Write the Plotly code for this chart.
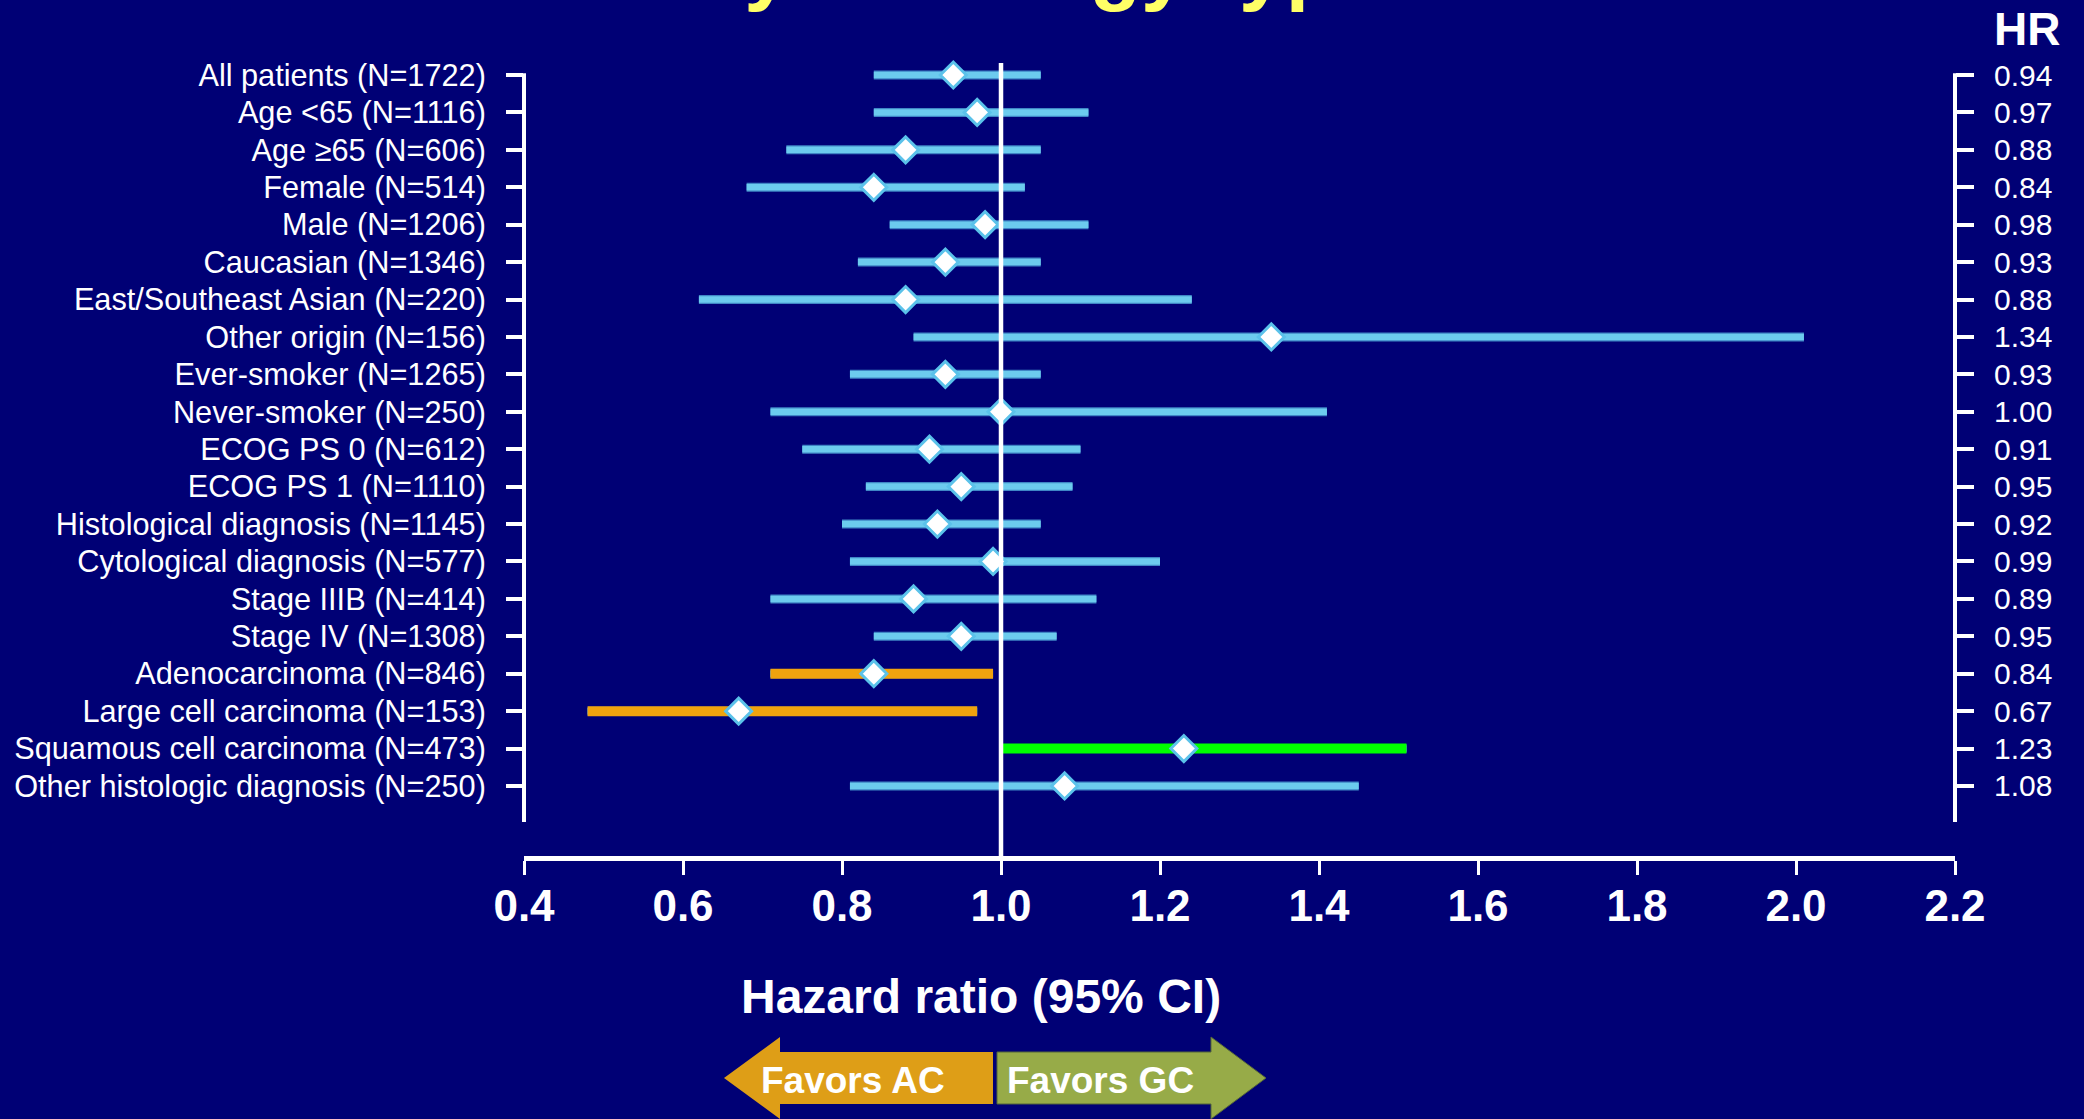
import plotly.graph_objects as go

# ---------------- data ----------------
labels = [
    "All patients (N=1722)", "Age <65 (N=1116)", "Age \u226565 (N=606)", "Female (N=514)",
    "Male (N=1206)", "Caucasian (N=1346)", "East/Southeast Asian (N=220)", "Other origin (N=156)",
    "Ever-smoker (N=1265)", "Never-smoker (N=250)", "ECOG PS 0 (N=612)", "ECOG PS 1 (N=1110)",
    "Histological diagnosis (N=1145)", "Cytological diagnosis (N=577)", "Stage IIIB (N=414)",
    "Stage IV (N=1308)", "Adenocarcinoma (N=846)", "Large cell carcinoma (N=153)",
    "Squamous cell carcinoma (N=473)", "Other histologic diagnosis (N=250)",
]
hr = [0.94, 0.97, 0.88, 0.84, 0.98, 0.93, 0.88, 1.34, 0.93, 1.00,
      0.91, 0.95, 0.92, 0.99, 0.89, 0.95, 0.84, 0.67, 1.23, 1.08]
ci_low = [0.84, 0.84, 0.73, 0.68, 0.86, 0.82, 0.62, 0.89, 0.81, 0.71,
          0.75, 0.83, 0.80, 0.81, 0.71, 0.84, 0.71, 0.48, 1.00, 0.81]
ci_high = [1.05, 1.11, 1.05, 1.03, 1.11, 1.05, 1.24, 2.01, 1.05, 1.41,
           1.10, 1.09, 1.05, 1.20, 1.12, 1.07, 0.99, 0.97, 1.51, 1.45]
favors = [None] * 16 + ["AC", "AC", "GC", None]
x_ticks = [0.4, 0.6, 0.8, 1.0, 1.2, 1.4, 1.6, 1.8, 2.0, 2.2]
x_title = "Hazard ratio (95% CI)"
hr_header = "HR"
arrow_left_text = "Favors AC"
arrow_right_text = "Favors GC"
title_text = "by histology type"

# ---------------- layout geometry (pixels) ----------------
FW, FH = 2084, 1119
L, R, T, B = 524, 1955, 40, 856
W, H = R - L, B - T
ROW0, ROWSTEP = 75, 37.42


def px(x):
    return (x - L) / W


def py(y):
    return (B - y) / H


idx = list(range(len(labels)))
y_range = [(B - ROW0) / ROWSTEP, (T - ROW0) / ROWSTEP]

BG = "#000075"
FONT = "Liberation Sans, Arial, sans-serif"


def segs(rows):
    xs, ys = [], []
    for i in rows:
        xs += [ci_low[i], ci_high[i], None]
        ys += [i, i, None]
    return xs, ys


fig = go.Figure()

bx, by = segs(idx)
fig.add_trace(go.Scatter(x=bx, y=by, mode="lines", line=dict(color="#3f86c6", width=9),
                         hoverinfo="skip", showlegend=False))
fig.add_trace(go.Scatter(x=bx, y=by, mode="lines", line=dict(color="#6ccbee", width=6.5),
                         hoverinfo="skip", showlegend=False))

ox, oy = segs([i for i in idx if favors[i] == "AC"])
fig.add_trace(go.Scatter(x=ox, y=oy, mode="lines", line=dict(color="#f0a30e", width=10),
                         hoverinfo="skip", showlegend=False))
gx, gy = segs([i for i in idx if favors[i] == "GC"])
fig.add_trace(go.Scatter(x=gx, y=gy, mode="lines", line=dict(color="#00ff00", width=10),
                         hoverinfo="skip", showlegend=False))

fig.add_trace(go.Scatter(x=hr, y=idx, mode="markers",
                         marker=dict(symbol="diamond", size=20, color="white",
                                     line=dict(color="#5bc2ea", width=3)),
                         text=labels, showlegend=False))
# invisible trace to carry the right-hand HR axis
fig.add_trace(go.Scatter(x=hr, y=idx, yaxis="y2", mode="markers",
                         marker=dict(opacity=0), hoverinfo="skip", showlegend=False))

shapes = []
# reference line at HR = 1
shapes.append(dict(type="line", xref="x", yref="paper", x0=1.0, x1=1.0, y0=0, y1=py(63),
                   line=dict(color="white", width=4.5)))
# left and right vertical axis lines
for xp in (0, 1):
    shapes.append(dict(type="line", xref="paper", yref="y", x0=xp, x1=xp,
                       y0=-0.05, y1=(822 - ROW0) / ROWSTEP,
                       line=dict(color="white", width=4)))


def poly(points):
    return "M " + " L ".join(f"{px(a):.5f},{py(b):.5f}" for a, b in points) + " Z"


left_arrow = [(724, 1078), (780, 1037), (780, 1052), (993, 1052), (993, 1104),
              (780, 1104), (780, 1119)]
right_arrow = [(997, 1052), (1211, 1052), (1211, 1037), (1266, 1078), (1211, 1119),
               (1211, 1104), (997, 1104)]
shapes.append(dict(type="path", xref="paper", yref="paper", path=poly(left_arrow),
                   fillcolor="#de9e17", line=dict(width=0), layer="below"))
shapes.append(dict(type="path", xref="paper", yref="paper", path=poly(right_arrow),
                   fillcolor="#97ab48", line=dict(color="#55663a", width=1), layer="below"))

annotations = [
    dict(text=x_title, xref="paper", yref="paper", x=px(981), y=py(996),
         showarrow=False, xanchor="center", yanchor="middle",
         font=dict(family=FONT, size=48, color="white", weight="bold")),
    dict(text=hr_header, xref="paper", yref="paper", x=px(2027), y=py(29),
         showarrow=False, xanchor="center", yanchor="middle",
         font=dict(family=FONT, size=46, color="white", weight="bold")),
    dict(text=arrow_left_text, xref="paper", yref="paper", x=px(853), y=py(1080),
         showarrow=False, xanchor="center", yanchor="middle",
         font=dict(family=FONT, size=37, color="white", weight="bold")),
    dict(text=arrow_right_text, xref="paper", yref="paper", x=px(1100), y=py(1080),
         showarrow=False, xanchor="center", yanchor="middle",
         font=dict(family=FONT, size=37, color="white", weight="bold")),
    dict(text=title_text, xref="paper", yref="paper", x=px(1038), y=py(15),
         showarrow=False, xanchor="center", yanchor="bottom",
         font=dict(family=FONT, size=84, color="#ffff66", weight="bold")),
]

fig.update_layout(
    width=FW, height=FH,
    margin=dict(l=L, r=FW - R, t=T, b=FH - B, pad=0),
    paper_bgcolor=BG, plot_bgcolor=BG,
    showlegend=False,
    xaxis=dict(range=[0.4, 2.2], tickvals=x_ticks, ticktext=[f"{v:.1f}" for v in x_ticks],
               showgrid=False, zeroline=False, showline=True, linecolor="white", linewidth=5,
               ticks="outside", ticklen=14, tickwidth=3, tickcolor="white",
               ticklabelstandoff=-7,
               tickfont=dict(family=FONT, size=44, color="white", weight="bold")),
    yaxis=dict(range=y_range, tickvals=idx, ticktext=labels, showgrid=False, zeroline=False,
               showline=False, ticks="outside", ticklen=17, tickwidth=4, tickcolor="white",
               ticklabelstandoff=14,
               tickfont=dict(family=FONT, size=30.7, color="white")),
    yaxis2=dict(range=y_range, overlaying="y", side="right", tickvals=idx,
                ticktext=[f"{v:.2f}" for v in hr], showgrid=False, zeroline=False,
                showline=False, ticks="outside", ticklen=18, tickwidth=4, tickcolor="white",
                ticklabelstandoff=14,
                tickfont=dict(family=FONT, size=30, color="white")),
    shapes=shapes,
    annotations=annotations,
)

fig.write_html("out.html")
